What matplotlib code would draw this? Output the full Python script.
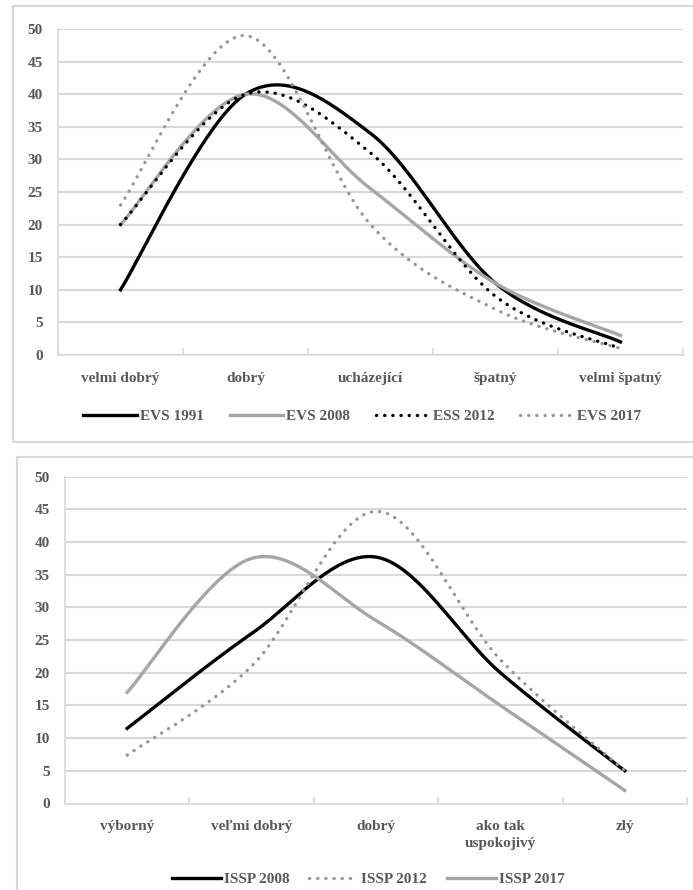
import numpy as np
import matplotlib
matplotlib.use("Agg")
import matplotlib.pyplot as plt
from matplotlib.patches import Rectangle

plt.rcParams['font.family'] = ['Liberation Serif', 'DejaVu Serif']
plt.rcParams['font.weight'] = 'bold'

# Horní graf (EVS / ESS)
cat1 = ['velmi dobrý', 'dobrý', 'ucházející', 'špatný', 'velmi špatný']
evs1991 = [10, 40, 34, 11, 2]
evs2008 = [20, 40, 25.5, 11, 3]
ess2012 = [20, 40, 31, 9, 1]
evs2017 = [23, 49, 20, 7, 1]

# Dolní graf (ISSP)
cat2 = ['výborný', 'veľmi dobrý', 'dobrý', 'ako tak\nuspokojivý', 'zlý']
issp2008 = [11.5, 26, 37.7, 20, 5]
issp2012 = [7.4, 21, 44.7, 22, 5]
issp2017 = [17, 37.5, 28, 15, 2]

yticks = np.arange(0, 51, 5)

blk = '#000000'
gry = '#A6A6A6'
gry2 = '#969696'
grid = '#D9D9D9'
txt = '#595959'
dots = (0, (0.05, 2.4))


def smooth(y, n=40):
    # vyhlazená čára jako v Excelu (Bezierovy segmenty)
    p = np.column_stack([np.arange(len(y)), np.asarray(y, float)])
    xs, ys = [], []
    t = np.linspace(0, 1, n)[:, None]
    for i in range(len(p) - 1):
        p0 = p[max(i - 1, 0)]; p1 = p[i]; p2 = p[i + 1]; p3 = p[min(i + 2, len(p) - 1)]
        c1 = p1 + (p2 - p0) / 6
        c2 = p2 - (p3 - p1) / 6
        b = (1 - t)**3 * p1 + 3 * (1 - t)**2 * t * c1 + 3 * (1 - t) * t**2 * c2 + t**3 * p2
        xs.append(b[:, 0]); ys.append(b[:, 1])
    return np.concatenate(xs), np.concatenate(ys)


def style_ax(ax, cats):
    ax.set_xlim(-0.5, len(cats) - 0.5)
    ax.set_ylim(0, 50)
    ax.set_yticks(yticks)
    ax.set_xticks(range(len(cats)))
    ax.set_xticklabels(cats, fontsize=11, color=txt, linespacing=1.35)
    ax.set_xticks(np.arange(-0.5, len(cats)), minor=True)
    ax.tick_params(axis='x', which='major', length=0, pad=12)
    ax.tick_params(axis='x', which='minor', direction='in', length=5, color=grid, width=1.2)
    ax.tick_params(axis='y', length=0, pad=11, labelsize=11, labelcolor=txt)
    for lab in ax.get_yticklabels():
        lab.set_fontweight('bold')
    ax.grid(axis='y', color=grid, lw=1.5)
    ax.set_axisbelow(True)
    for s in ['top', 'right']:
        ax.spines[s].set_visible(False)
    for s in ['left', 'bottom']:
        ax.spines[s].set_color(grid)
        ax.spines[s].set_linewidth(1.2)


fig = plt.figure(figsize=(6.93, 8.9), dpi=100)

# rámečky grafů
fig.patches.append(Rectangle((13 / 693, 1 - 442 / 890), 700 / 693, 436 / 890, transform=fig.transFigure,
                             fill=False, edgecolor=grid, lw=1.5))
fig.patches.append(Rectangle((17 / 693, -0.05), 700 / 693, 1 - 457 / 890 + 0.05, transform=fig.transFigure,
                             fill=False, edgecolor=grid, lw=1.5))

ax1 = fig.add_axes([58 / 693, 1 - 355 / 890, 625 / 693, 326 / 890])
ax1.plot(*smooth(evs1991), color=blk, lw=2.4, label='EVS 1991')
ax1.plot(*smooth(evs2008), color=gry, lw=2.4, label='EVS 2008')
ax1.plot(*smooth(ess2012), color=blk, lw=2.4, ls=dots, dash_capstyle='round', label='ESS 2012')
ax1.plot(*smooth(evs2017), color=gry2, lw=2.4, ls=dots, dash_capstyle='round', label='EVS 2017')
style_ax(ax1, cat1)
fig.legend(*ax1.get_legend_handles_labels(), loc='center', bbox_to_anchor=(362 / 693, 1 - 416 / 890),
           ncol=4, frameon=False, fontsize=11, handlelength=3.5, handletextpad=0.2, columnspacing=1.7,
           labelcolor=txt)

ax2 = fig.add_axes([65 / 693, 1 - 803.5 / 890, 622 / 693, 326.8 / 890])
ax2.plot(*smooth(issp2008), color=blk, lw=2.4, label='ISSP 2008')
ax2.plot(*smooth(issp2012), color=gry2, lw=2.4, ls=dots, dash_capstyle='round', label='ISSP 2012')
ax2.plot(*smooth(issp2017), color=gry, lw=2.4, label='ISSP 2017')
style_ax(ax2, cat2)
fig.legend(*ax2.get_legend_handles_labels(), loc='center', bbox_to_anchor=(368 / 693, 1 - 879 / 890),
           ncol=3, frameon=False, fontsize=11, handlelength=3.2, handletextpad=0.2, columnspacing=1.3,
           labelcolor=txt)

fig.savefig('out.png', dpi=100)
